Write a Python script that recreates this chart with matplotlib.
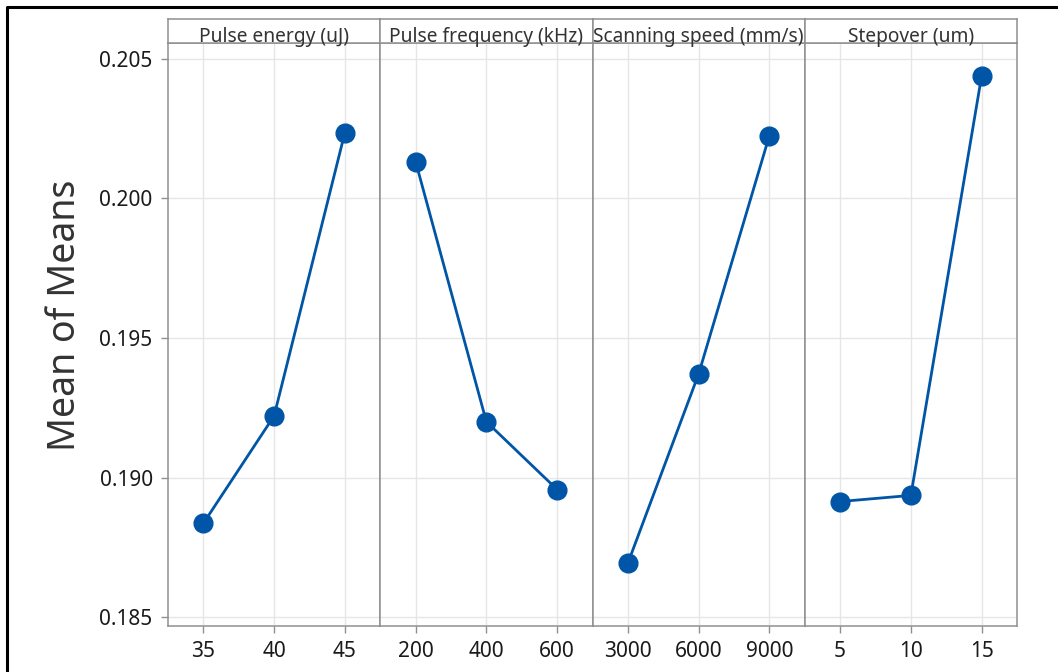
import matplotlib as mpl
import matplotlib.pyplot as plt
from matplotlib.lines import Line2D

mpl.rcParams['font.family'] = ['Noto Sans', 'DejaVu Sans']

# main effects for means
factors = ['Pulse energy (uJ)', 'Pulse frequency (kHz)',
           'Scanning speed (mm/s)', 'Stepover (um)']
levels = [['35', '40', '45'],
          ['200', '400', '600'],
          ['3000', '6000', '9000'],
          ['5', '10', '15']]
pulse_energy = [0.18836, 0.19221, 0.20236]
pulse_frequency = [0.20132, 0.19200, 0.18957]
scanning_speed = [0.18693, 0.19371, 0.20225]
stepover = [0.18914, 0.18936, 0.20439]
means = [pulse_energy, pulse_frequency, scanning_speed, stepover]
y_ticks = [0.185, 0.190, 0.195, 0.200, 0.205]

W, H = 1058, 672
line_col = '#0055a6'
frame_col = '#8f8f8f'
grid_col = '#e6e6e6'
text_col = '#1a1a1a'

fig = plt.figure(figsize=(W / 100, H / 100), dpi=100)

left, right = 168, 1017
top_strip, top_plot, bottom = 19, 43, 626
pw = (right - left) / 4

for i, (name, labs, vals) in enumerate(zip(factors, levels, means)):
    x0 = left + i * pw
    ax = fig.add_axes([x0 / W, 1 - bottom / H, pw / W, (bottom - top_plot) / H])
    xs = list(range(1, len(labs) + 1))
    ax.plot(xs, vals, color=line_col, lw=2.0, marker='o', ms=13.5,
            mfc=line_col, mec=line_col, zorder=3)
    ax.set_xlim(0.5, 3.5)
    ax.set_ylim(0.18468, 0.20557)
    ax.set_xticks(xs)
    ax.set_xticklabels(labs)
    ax.set_yticks(y_ticks)
    ax.grid(True, color=grid_col, lw=1.0, zorder=0)
    ax.set_axisbelow(True)
    for sp in ax.spines.values():
        sp.set_color(frame_col)
        sp.set_linewidth(1.1)
    ax.tick_params(axis='both', colors=frame_col, labelcolor=text_col,
                   labelsize=15, length=5, width=1.0, pad=6)
    if i == 0:
        ax.set_yticklabels([f'{t:.3f}' for t in y_ticks])
    else:
        ax.tick_params(axis='y', left=False, labelleft=False)

    # factor strip on top of each panel
    sx = fig.add_axes([x0 / W, 1 - top_plot / H, pw / W, (top_plot - top_strip) / H])
    sx.set_xticks([])
    sx.set_yticks([])
    for sp in sx.spines.values():
        sp.set_color(frame_col)
        sp.set_linewidth(1.1)
    sx.text(0.5, 0.04, name, ha='center', va='baseline', fontsize=13.8,
            color='#333333', transform=sx.transAxes, clip_on=False)

fig.text(65 / W, 1 - 315 / H, 'Mean of Means', rotation=90, ha='center',
         va='center', fontsize=27, color='#333333')

# outer border
fig.add_artist(Line2D([7 / W, 7 / W, 1.0], [0.0, 1 - 7 / H, 1 - 7 / H],
                      transform=fig.transFigure, color='black', lw=2.2))

fig.savefig('out.png', dpi=100)
